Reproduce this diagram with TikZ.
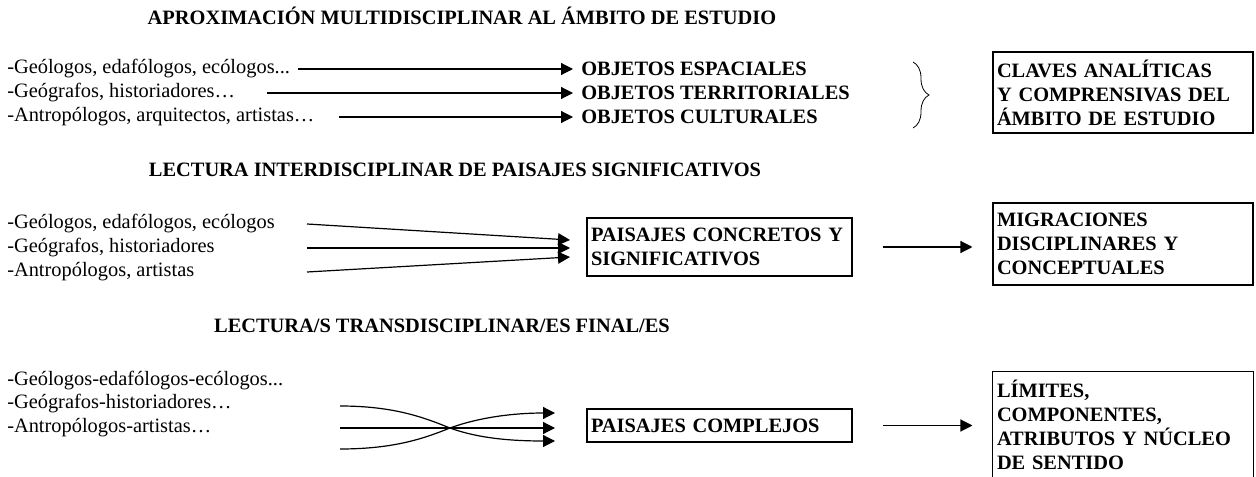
\documentclass[tikz,border=0pt]{standalone}
\usepackage{fontspec}
\setmainfont{Liberation Serif}
\usetikzlibrary{arrows.meta,decorations.pathreplacing}

\begin{document}
\begin{tikzpicture}[x=0.75pt,y=-0.75pt,
    every node/.style={font=\fontsize{15.3}{18}\selectfont},
    titulo/.style={inner sep=0pt, font=\fontsize{15.3}{18}\selectfont\bfseries},
    grupo/.style={anchor=west, inner sep=0pt},
    objeto/.style={anchor=west, inner sep=0pt, font=\fontsize{15.3}{18}\selectfont\bfseries},
    caja/.style={draw, line width=0.8pt, align=left, inner xsep=3pt, text width=189pt,
      font=\fontsize{15.3}{18}\selectfont\bfseries},
    paisaje/.style={draw, line width=0.8pt, align=left, inner xsep=3pt, text width=192.75pt,
      font=\fontsize{15.3}{18}\selectfont\bfseries},
    flecha/.style={line width=0.9pt, -{Triangle[length=9pt,width=9pt]}}]
   \useasboundingbox (0,0) rectangle (1256,477);

   % aproximacion multidisciplinar
   \node[titulo] (t1) at (462,16) {APROXIMACIÓN MULTIDISCIPLINAR AL ÁMBITO DE ESTUDIO};
   \node[grupo] (g1) at (7,69) {-Geólogos, edafólogos, ecólogos...};
   \node[grupo] (g2) at (7,93) {-Geógrafos, historiadores…};
   \node[grupo] (g3) at (7,117) {-Antropólogos, arquitectos, artistas…};
   \node[objeto] (o1) at (581,69) {OBJETOS ESPACIALES};
   \node[objeto] (o2) at (581,93) {OBJETOS TERRITORIALES};
   \node[objeto] (o3) at (581,117) {OBJETOS CULTURALES};
   \coordinate (a1) at (298,69);
   \coordinate (a2) at (267,93);
   \coordinate (a3) at (339,117);
   \draw[flecha, shorten >=6pt] (a1) -- (o1.west);
   \draw[flecha, shorten >=6pt] (a2) -- (o2.west);
   \draw[flecha, shorten >=6pt] (a3) -- (o3.west);
   \coordinate (b1) at (913,62);
   \coordinate (b2) at (913,128);
   \draw[decorate, decoration={brace, amplitude=12pt}, line width=0.6pt] (b1) -- (b2);
   \node[caja, minimum height=60.75pt] (c1) at (1123,92.5)
     {CLAVES ANALÍTICAS\\ Y COMPRENSIVAS DEL\\ ÁMBITO DE ESTUDIO};

   % lectura interdisciplinar
   \node[titulo] (t2) at (455,170) {LECTURA INTERDISCIPLINAR DE PAISAJES SIGNIFICATIVOS};
   \node[grupo] (h1) at (7,224) {-Geólogos, edafólogos, ecólogos};
   \node[grupo] (h2) at (7,248) {-Geógrafos, historiadores};
   \node[grupo] (h3) at (7,272) {-Antropólogos, artistas};
   \node[paisaje, minimum height=43.5pt] (p1) at (719.5,247)
     {PAISAJES CONCRETOS Y\\ SIGNIFICATIVOS};
   \node[caja, minimum height=61.5pt] (m1) at (1123,244)
     {MIGRACIONES\\ DISCIPLINARES Y\\ CONCEPTUALES};
   \coordinate (i1) at (307,224);
   \coordinate (i2) at (307,248);
   \coordinate (i3) at (307,272);
   \coordinate (f1) at (570,240);
   \coordinate (f2) at (570,248);
   \coordinate (f3) at (570,257);
   \draw[flecha] (i1) -- (f1);
   \draw[flecha] (i2) -- (f2);
   \draw[flecha] (i3) -- (f3);
   \draw[flecha, shorten <=23pt, shorten >=15pt] (p1.east) -- (p1.east -| m1.west);

   % lectura transdisciplinar
   \node[titulo] (t3) at (442,326) {LECTURA/S TRANSDISCIPLINAR/ES FINAL/ES};
   \node[grupo] (k1) at (7,381) {-Geólogos-edafólogos-ecólogos...};
   \node[grupo] (k2) at (7,404) {-Geógrafos-historiadores…};
   \node[grupo] (k3) at (7,428) {-Antropólogos-artistas…};
   \node[paisaje, minimum height=24.75pt] (p2) at (719.5,425.5) {PAISAJES COMPLEJOS};
   \node[caja, draw=none, minimum height=79.5pt] (l1) at (1123,425)
     {LÍMITES,\\ COMPONENTES,\\ ATRIBUTOS Y NÚCLEO\\ DE SENTIDO};
   \draw[line width=0.8pt] (l1.south west) -- (l1.north west) -- (l1.north east) -- (l1.south east);
   \coordinate (j1) at (340,406);
   \coordinate (j2) at (340,428);
   \coordinate (j3) at (340,449);
   \coordinate (x) at (450,428);
   \coordinate (e1) at (555,413);
   \coordinate (e2) at (555,428);
   \coordinate (e3) at (555,441);
   \draw[flecha] (j1) .. controls (395,406) and (425,418) .. (x)
                      .. controls (480,439) and (515,441) .. (e3);
   \draw[flecha] (j2) -- (e2);
   \draw[flecha] (j3) .. controls (395,449) and (425,438) .. (x)
                      .. controls (480,417) and (515,413) .. (e1);
   \draw[flecha, shorten <=23pt, shorten >=15pt] (p2.east) -- (p2.east -| l1.west);
 \end{tikzpicture}
\end{document}
